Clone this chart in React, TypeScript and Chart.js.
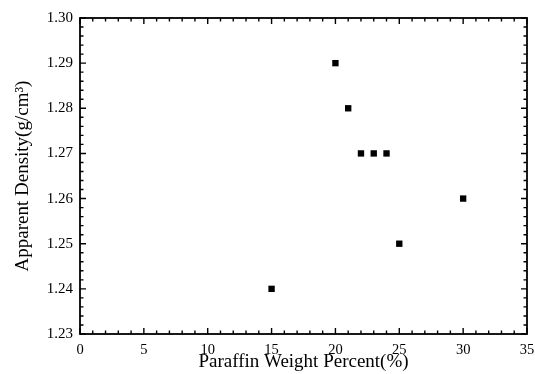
import React, { useEffect, useRef } from "react";
import { Chart, registerables } from "chart.js";

Chart.register(...registerables);

const paraffinPercent = [15, 20, 21, 22, 23, 24, 25, 30];
const apparentDensity = [1.24, 1.29, 1.28, 1.27, 1.27, 1.27, 1.25, 1.26];
const xTickRange = { min: 0, max: 35, step: 5, minor: 1 };
const yTickRange = { min: 1.23, max: 1.3, step: 0.01, minor: 0.002 };
const xTitle = "Paraffin Weight Percent(%)";
const yTitle = "Apparent Density(g/cm\u00B3)";

const FONT = "'Liberation Serif', 'DejaVu Serif', serif";

const framePlugin = {
  id: "frameTicks",
  afterDraw(chart: any) {
    const { ctx, chartArea } = chart;
    const xs = chart.scales.x;
    const ys = chart.scales.y;
    const { left, right, top, bottom } = chartArea;
    ctx.save();
    ctx.strokeStyle = "#000";
    ctx.lineWidth = 1.8;
    ctx.strokeRect(left, top, right - left, bottom - top);
    ctx.lineWidth = 1.4;
    const major = 6;
    const minor = 3.5;
    const nx = Math.round((xTickRange.max - xTickRange.min) / xTickRange.minor);
    for (let i = 0; i <= nx; i++) {
      const v = xTickRange.min + i * xTickRange.minor;
      const isMajor = i % Math.round(xTickRange.step / xTickRange.minor) === 0;
      const len = isMajor ? major : minor;
      const px = xs.getPixelForValue(v);
      ctx.beginPath();
      ctx.moveTo(px, bottom);
      ctx.lineTo(px, bottom - len);
      ctx.moveTo(px, top);
      ctx.lineTo(px, top + len);
      ctx.stroke();
    }
    const ny = Math.round((yTickRange.max - yTickRange.min) / yTickRange.minor);
    for (let i = 0; i <= ny; i++) {
      const v = yTickRange.min + i * yTickRange.minor;
      const isMajor = i % Math.round(yTickRange.step / yTickRange.minor) === 0;
      const len = isMajor ? major : minor;
      const py = ys.getPixelForValue(v);
      ctx.beginPath();
      ctx.moveTo(left, py);
      ctx.lineTo(left + len, py);
      ctx.moveTo(right, py);
      ctx.lineTo(right - len, py);
      ctx.stroke();
    }
    ctx.restore();
  },
};

export default function App() {
  const ref = useRef<HTMLCanvasElement>(null);
  useEffect(() => {
    document.body.style.margin = "0";
    const canvas = ref.current!;
    const chart = new Chart(canvas, {
      type: "scatter",
      data: {
        datasets: [
          {
            data: paraffinPercent.map((x, i) => ({ x, y: apparentDensity[i] })),
            pointStyle: "rect",
            pointRadius: 4.5,
            pointBackgroundColor: "#000",
            pointBorderColor: "#000",
            pointBorderWidth: 0,
          },
        ],
      },
      options: {
        animation: false,
        responsive: false,
        devicePixelRatio: 1,
        layout: { padding: { top: 18, right: 8, left: 0, bottom: 0 } },
        plugins: { legend: { display: false }, tooltip: { enabled: false } },
        scales: {
          x: {
            type: "linear",
            min: xTickRange.min,
            max: xTickRange.max,
            grid: { display: false, drawTicks: false },
            border: { display: false },
            ticks: {
              stepSize: xTickRange.step,
              padding: 7,
              color: "#000",
              font: { family: FONT, size: 14.5 },
            },
            title: {
              display: true,
              text: xTitle,
              color: "#000",
              font: { family: FONT, size: 19 },
              padding: { top: 0, bottom: 1 },
            },
            afterFit: (s: any) => {
              s.height = 40;
              s.paddingLeft = 0;
              s.paddingRight = 0;
            },
          },
          y: {
            type: "linear",
            min: yTickRange.min,
            max: yTickRange.max,
            grid: { display: false, drawTicks: false },
            border: { display: false },
            ticks: {
              stepSize: yTickRange.step,
              padding: 7,
              color: "#000",
              font: { family: FONT, size: 15 },
              callback: (v: any) => Number(v).toFixed(2),
            },
            title: {
              display: true,
              text: yTitle,
              color: "#000",
              font: { family: FONT, size: 19 },
              padding: { top: 12, bottom: 0 },
            },
            afterFit: (s: any) => {
              s.width = 80;
              s.paddingTop = 0;
              s.paddingBottom = 0;
            },
          },
        },
      },
      plugins: [framePlugin],
    });
    return () => chart.destroy();
  }, []);
  return <canvas ref={ref} width={535} height={374} style={{ display: "block" }} />;
}
